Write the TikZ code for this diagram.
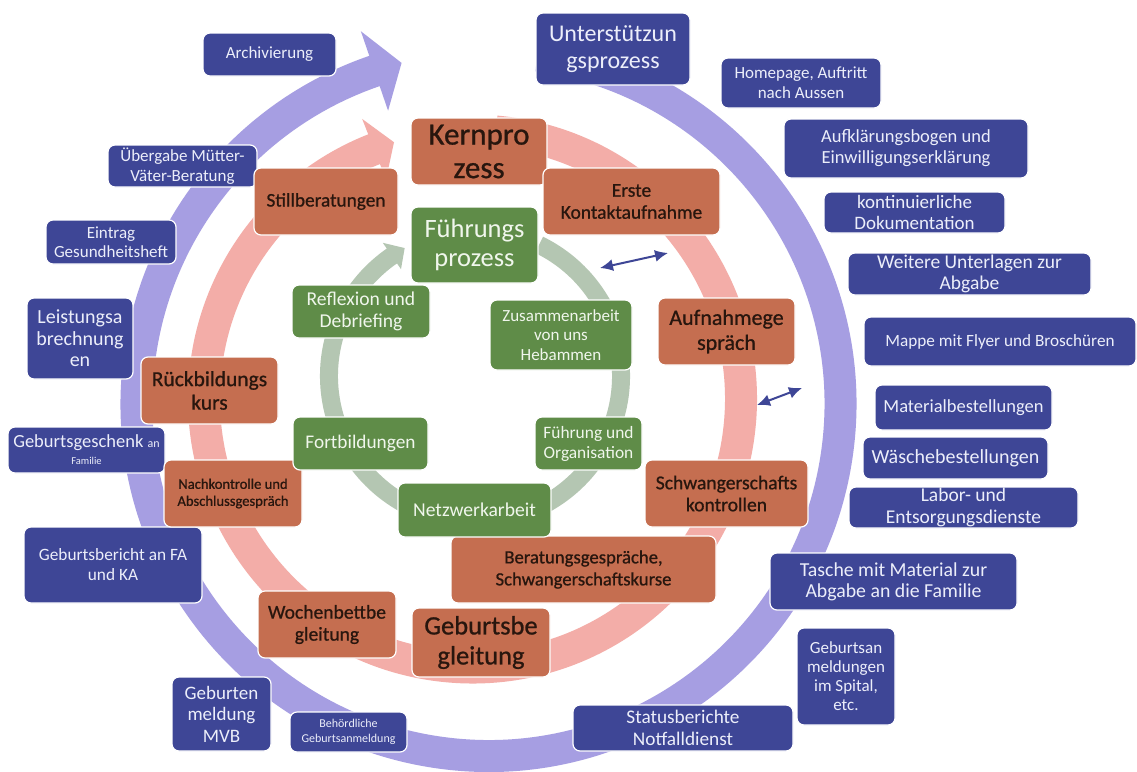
\documentclass[tikz,border=0pt]{standalone}
\usepackage{fontspec}
\setmainfont{Carlito}
\newfontfamily\ofont{Carlito}[FakeBold=0.8]
\usetikzlibrary{arrows.meta,calc}
\definecolor{ringP}{RGB}{166,158,226}
\definecolor{ringR}{RGB}{243,173,168}
\definecolor{ringG}{RGB}{180,198,178}
\definecolor{boxB}{RGB}{62,70,150}
\definecolor{boxO}{RGB}{197,110,80}
\definecolor{boxG}{RGB}{95,140,72}
\definecolor{txtB}{RGB}{236,238,250}
\definecolor{txtG}{RGB}{240,246,236}
\definecolor{txtO}{RGB}{40,22,14}
\begin{document}
\begin{tikzpicture}[x=1pt,y=-1pt,
  bx/.style={rectangle, rounded corners=7pt, draw=white, line width=1.2pt, align=center, inner sep=0pt},
  bbox/.style={bx, fill=boxB, text=txtB},
  obox/.style={bx, fill=boxO, text=txtO},
  gbox/.style={bx, fill=boxG, text=txtG},
  fs/.style 2 args={font=\fontsize{#1pt}{#2pt}\selectfont},
  ofs/.style 2 args={font=\ofont\fontsize{#1pt}{#2pt}\selectfont},
  sz/.style 2 args={minimum width=#1pt, minimum height=#2pt},
  dbl/.style={draw=boxB, line width=2pt, {Latex[length=13pt,width=12pt]}-{Latex[length=13pt,width=12pt]}},
]
\useasboundingbox (0,0) rectangle (1137,771);
\fill[white] (0,0) rectangle (1137,771);

% ring centres
\coordinate (P) at (488.5,404);
\coordinate (K) at (472.5,399);
\coordinate (G) at (475,376);

% outer (purple) cycle arrow
\draw[ringP, line width=32pt] ($(P)+(-82:352)$) arc[start angle=-82, end angle=251.4, radius=352];
\fill[ringP] ($(P)+(251.1:310)$) -- ($(P)+(251.1:394)$) -- ($(P)+(255.7:352)$) -- cycle;

% middle (pink) cycle arrow
\draw[ringR, line width=32pt] ($(K)+(-85:268.5)$) arc[start angle=-85, end angle=248.8, radius=268.5];
\fill[ringR] ($(K)+(248.5:236)$) -- ($(K)+(248.5:301)$) -- ($(K)+(253:268.5)$) -- cycle;

% inner (green) cycle arrow
\draw[ringG, line width=18pt] ($(G)+(-64:146)$) arc[start angle=-64, end angle=235.6, radius=146];
\fill[ringG] ($(G)+(235.3:130)$) -- ($(G)+(235.3:162)$) -- ($(G)+(241.2:146)$) -- cycle;

% ---- blue boxes (support process)
\node[bbox, fs={17}{20}, sz={133}{43}] (arch) at (269.5,54.5) {Archivierung};
\node[bbox, fs={24}{27}, sz={154}{72}] (unt) at (613,49) {Unterstützun\\gsprozess};
\node[bbox, fs={17}{20}, sz={160}{50}] (home) at (801,83) {Homepage, Auftritt\\nach Aussen};
\node[bbox, fs={18.5}{21}, sz={244}{59}] (aufkl) at (906,148.5) {Aufklärungsbogen und\\Einwilligungserklärung};
\node[bbox, fs={19}{21.5}, sz={181}{41}] (konti) at (914.5,212.5) {kontinuierliche\\Dokumentation};
\node[bbox, fs={19.5}{21.5}, sz={243}{42}] (weit) at (969.5,274) {Weitere Unterlagen zur\\Abgabe};
\node[bbox, fs={17.2}{20}, sz={272}{49}] (mappe) at (1000,341.5) {Mappe mit Flyer und Broschüren};
\node[bbox, fs={18.5}{21}, sz={177}{45}] (mat) at (963.5,407.5) {Materialbestellungen};
\node[bbox, fs={20}{22}, sz={185}{42}] (wae) at (955.5,458) {Wäschebestellungen};
\node[bbox, fs={19.5}{21.5}, sz={229}{41}] (labor) at (963.5,507.5) {Labor- und\\Entsorgungsdienste};
\node[bbox, fs={19.8}{21}, sz={247}{57}] (tasche) at (893.5,581.5) {Tasche mit Material zur\\Abgabe an die Familie};
\node[bbox, fs={17}{19}, sz={98}{97}] (gebsp) at (846,676.5) {Geburtsan\\meldungen\\im Spital,\\etc.};
\node[bbox, fs={19.3}{21.5}, sz={220}{46}] (status) at (683,728) {Statusberichte\\Notfalldienst};
\node[bbox, fs={12}{15}, sz={117}{40}] (behoerd) at (348.5,732) {Behördliche\\Geburtsanmeldung};
\node[bbox, fs={19}{21.5}, sz={99}{74}] (mvb) at (221.5,714) {Geburten\\meldung\\MVB};
\node[bbox, fs={17.3}{20}, sz={178}{76}] (gebber) at (113,565) {Geburtsbericht an FA\\und KA};
\node[bbox, fs={18.5}{17}, sz={157}{46}] (geschenk) at (86.5,450) {Geburtsgeschenk {\fontsize{12pt}{13pt}\selectfont an}\\{\fontsize{10.5pt}{12pt}\selectfont Familie}};
\node[bbox, fs={20}{21.5}, sz={106}{81}] (leist) at (80,338.5) {Leistungsa\\brechnung\\en};
\node[bbox, fs={17}{19}, sz={130}{44}] (eintrag) at (111,242) {Eintrag\\Gesundheitsheft};
\node[bbox, fs={17}{20}, sz={149}{42}] (ueber) at (182.5,166) {Übergabe Mütter-\\Väter-Beratung};

% ---- orange boxes (core process)
\node[obox, ofs={31}{33.5}, sz={136}{67}] (kern) at (479,151.5) {Kernpro\\zess};
\node[obox, ofs={19.5}{22}, sz={177}{67}] (erste) at (631.5,201.5) {Erste\\Kontaktaufnahme};
\node[obox, ofs={22}{25}, sz={137}{67}] (aufn) at (726.5,331.5) {Aufnahmege\\spräch};
\node[obox, ofs={19.6}{22}, sz={163}{67}] (schw) at (726.5,493.5) {Schwangerschafts\\kontrollen};
\node[obox, ofs={18.7}{22}, sz={265}{67}] (berat) at (583.5,569.5) {Beratungsgespräche,\\Schwangerschaftskurse};
\node[obox, ofs={26.5}{30}, sz={138}{69}] (gebbeg) at (481,642.5) {Geburtsbe\\gleitung};
\node[obox, ofs={19.6}{22}, sz={138}{67}] (wochen) at (327,624.5) {Wochenbettbe\\gleitung};
\node[obox, ofs={14.6}{17}, sz={138}{67}] (nachk) at (233,493.5) {Nachkontrolle und\\Abschlussgespräch};
\node[obox, ofs={21.5}{23.5}, sz={137}{67}] (rueck) at (209.5,390.5) {Rückbildungs\\kurs};
\node[obox, ofs={19.3}{22}, sz={144}{67}] (still) at (326,201.5) {Stillberatungen};

% ---- green boxes (management process)
\node[gbox, fs={26.5}{28.5}, sz={127}{76}] (fuehr) at (474.5,245) {Führungs\\prozess};
\node[gbox, fs={19.6}{22}, sz={138}{53}] (refl) at (361,311.5) {Reflexion und\\Debriefing};
\node[gbox, fs={17}{19.5}, sz={142}{70}] (zus) at (561,335) {Zusammenarbeit\\von uns\\Hebammen};
\node[gbox, fs={17.4}{20}, sz={107}{53}] (fuorg) at (588.5,443.5) {Führung und\\Organisation};
\node[gbox, fs={19.3}{21}, sz={135}{53}] (fort) at (360.5,443.5) {Fortbildungen};
\node[gbox, fs={19.6}{21}, sz={153}{54}] (netz) at (474.5,510) {Netzwerkarbeit};

% ---- double-headed link arrows between the cycles
\coordinate (l1a) at (600,268);
\coordinate (l1b) at (668,253);
\coordinate (l2a) at (757,405);
\coordinate (l2b) at (802,388);
\draw[dbl] (l1a) -- (l1b);
\draw[dbl] (l2a) -- (l2b);
\end{tikzpicture}
\end{document}
